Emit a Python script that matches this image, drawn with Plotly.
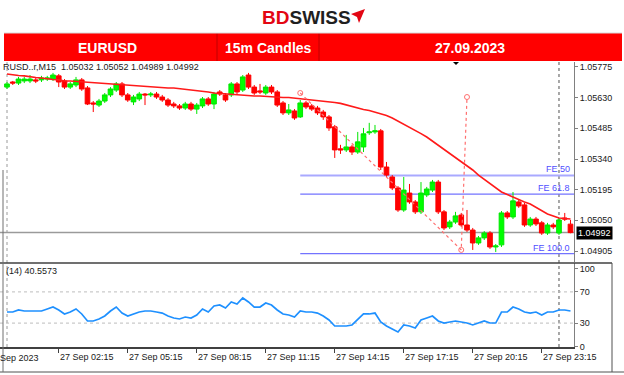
import plotly.graph_objects as go

W, H = 624, 375
def px(x):
    return x / W
def py(y):
    return 1 - y / H

FONT = "Liberation Sans, Arial, sans-serif"

# ---------------- data ----------------
bars = list(range(99))  # 15m bars, 0 = 27 Sep 00:00
opens = [1.05680, 1.05704, 1.05699, 1.05709, 1.05709, 1.05714, 1.05714, 1.05718, 1.05718, 1.05733,
         1.05709, 1.05680, 1.05690, 1.05714, 1.05676, 1.05605, 1.05595, 1.05614, 1.05643, 1.05666,
         1.05695, 1.05643, 1.05610, 1.05624, 1.05647, 1.05643, 1.05647, 1.05633, 1.05619, 1.05600,
         1.05591, 1.05581, 1.05600, 1.05576, 1.05591, 1.05624, 1.05600, 1.05657, 1.05643, 1.05643,
         1.05695, 1.05666, 1.05737, 1.05680, 1.05662, 1.05652, 1.05680, 1.05657, 1.05605, 1.05558,
         1.05567, 1.05539, 1.05605, 1.05591, 1.05581, 1.05562, 1.05539, 1.05492, 1.05388, 1.05383,
         1.05397, 1.05373, 1.05397, 1.05464, 1.05468, 1.05473, 1.05302, 1.05255, 1.05203, 1.05099,
         1.05179, 1.05137, 1.05090, 1.05170, 1.05193, 1.05231, 1.05090, 1.05019, 1.05042, 1.05075,
         1.05028, 1.05004, 1.04943, 1.04967, 1.04990, 1.04924, 1.04934, 1.05085, 1.05066, 1.05137,
         1.05123, 1.05028, 1.05056, 1.05038, 1.04990, 1.05028, 1.04990, 1.05061, 1.05032]
highs = [1.05704, 1.05709, 1.05728, 1.05728, 1.05737, 1.05723, 1.05733, 1.05733, 1.05747, 1.05742,
         1.05718, 1.05704, 1.05728, 1.05723, 1.05685, 1.05614, 1.05624, 1.05652, 1.05680, 1.05704,
         1.05704, 1.05652, 1.05643, 1.05657, 1.05652, 1.05657, 1.05657, 1.05643, 1.05628, 1.05610,
         1.05600, 1.05610, 1.05610, 1.05605, 1.05633, 1.05633, 1.05657, 1.05666, 1.05652, 1.05704,
         1.05704, 1.05737, 1.05747, 1.05690, 1.05695, 1.05690, 1.05690, 1.05666, 1.05614, 1.05600,
         1.05576, 1.05619, 1.05614, 1.05600, 1.05591, 1.05572, 1.05548, 1.05501, 1.05407, 1.05454,
         1.05407, 1.05468, 1.05487, 1.05511, 1.05501, 1.05482, 1.05326, 1.05264, 1.05212, 1.05255,
         1.05222, 1.05146, 1.05231, 1.05208, 1.05241, 1.05241, 1.05099, 1.05052, 1.05090, 1.05085,
         1.05099, 1.05014, 1.04976, 1.04999, 1.04999, 1.04938, 1.05094, 1.05094, 1.05184, 1.05146,
         1.05132, 1.05066, 1.05066, 1.05047, 1.05038, 1.05038, 1.05061, 1.05085, 1.05052]
lows = [1.05671, 1.05690, 1.05690, 1.05699, 1.05699, 1.05699, 1.05704, 1.05709, 1.05709, 1.05680,
        1.05671, 1.05671, 1.05680, 1.05662, 1.05595, 1.05562, 1.05586, 1.05605, 1.05633, 1.05657,
        1.05633, 1.05610, 1.05595, 1.05614, 1.05595, 1.05633, 1.05624, 1.05610, 1.05586, 1.05581,
        1.05572, 1.05572, 1.05567, 1.05553, 1.05581, 1.05591, 1.05576, 1.05638, 1.05610, 1.05633,
        1.05647, 1.05657, 1.05671, 1.05643, 1.05647, 1.05643, 1.05647, 1.05586, 1.05548, 1.05548,
        1.05525, 1.05534, 1.05576, 1.05567, 1.05548, 1.05525, 1.05473, 1.05345, 1.05364, 1.05373,
        1.05359, 1.05364, 1.05373, 1.05454, 1.05459, 1.05288, 1.05255, 1.05193, 1.05090, 1.05090,
        1.05128, 1.05080, 1.05080, 1.05160, 1.05184, 1.05080, 1.05004, 1.05009, 1.05033, 1.05019,
        1.04995, 1.04910, 1.04934, 1.04957, 1.04915, 1.04900, 1.04924, 1.05056, 1.05056, 1.05109,
        1.05019, 1.05019, 1.05023, 1.04981, 1.04981, 1.05009, 1.04981, 1.05047, 1.04989]
closes = [1.05695, 1.05699, 1.05718, 1.05718, 1.05718, 1.05709, 1.05723, 1.05723, 1.05737, 1.05704,
          1.05680, 1.05695, 1.05714, 1.05671, 1.05600, 1.05600, 1.05614, 1.05643, 1.05671, 1.05695,
          1.05643, 1.05619, 1.05633, 1.05647, 1.05643, 1.05647, 1.05633, 1.05619, 1.05595, 1.05591,
          1.05581, 1.05600, 1.05576, 1.05595, 1.05624, 1.05600, 1.05647, 1.05647, 1.05619, 1.05695,
          1.05657, 1.05728, 1.05680, 1.05652, 1.05657, 1.05680, 1.05657, 1.05595, 1.05558, 1.05572,
          1.05534, 1.05605, 1.05586, 1.05576, 1.05558, 1.05539, 1.05487, 1.05383, 1.05383, 1.05397,
          1.05373, 1.05421, 1.05459, 1.05468, 1.05473, 1.05302, 1.05264, 1.05203, 1.05099, 1.05193,
          1.05137, 1.05090, 1.05179, 1.05198, 1.05231, 1.05090, 1.05014, 1.05042, 1.05071, 1.05028,
          1.05004, 1.04943, 1.04967, 1.04990, 1.04924, 1.04929, 1.05085, 1.05066, 1.05142, 1.05118,
          1.05028, 1.05056, 1.05033, 1.04990, 1.05028, 1.05019, 1.05052, 1.05056, 1.04992]
ma_values = [1.05742, 1.05737, 1.05735, 1.05733, 1.05728, 1.05725, 1.05723, 1.05718, 1.05716, 1.05714,
             1.05709, 1.05709, 1.05707, 1.05704, 1.05704, 1.05702, 1.05699, 1.05699, 1.05697, 1.05695,
             1.05692, 1.05690, 1.05688, 1.05685, 1.05683, 1.05680, 1.05680, 1.05678, 1.05676, 1.05676,
             1.05673, 1.05671, 1.05669, 1.05664, 1.05662, 1.05657, 1.05652, 1.05650, 1.05647, 1.05643,
             1.05643, 1.05640, 1.05638, 1.05638, 1.05638, 1.05636, 1.05633, 1.05633, 1.05631, 1.05631,
             1.05628, 1.05628, 1.05624, 1.05621, 1.05619, 1.05614, 1.05612, 1.05607, 1.05603, 1.05595,
             1.05588, 1.05581, 1.05574, 1.05569, 1.05562, 1.05555, 1.05546, 1.05534, 1.05520, 1.05505,
             1.05491, 1.05478, 1.05460, 1.05444, 1.05425, 1.05406, 1.05387, 1.05368, 1.05345, 1.05326,
             1.05307, 1.05288, 1.05264, 1.05245, 1.05222, 1.05203, 1.05184, 1.05172, 1.05160, 1.05146,
             1.05137, 1.05127, 1.05111, 1.05094, 1.05080, 1.05071, 1.05061, 1.05059, 1.05056]
rsi_values = [44.2, 44.2, 46.8, 45.5, 45.5, 45.5, 45.5, 48.1, 50.6, 46.8,
              41.7, 44.2, 48.1, 41.7, 32.7, 32.7, 35.3, 39.1, 45.5, 50.6,
              42.9, 39.1, 41.7, 44.2, 45.5, 45.5, 44.2, 42.9, 39.1, 36.5,
              35.3, 37.8, 36.5, 40.4, 48.1, 44.2, 51.9, 53.2, 49.4, 57.1,
              54.5, 62.2, 57.1, 50.6, 50.6, 55.8, 53.2, 46.8, 41.7, 40.4,
              37.8, 45.5, 44.2, 44.2, 42.9, 39.1, 34.0, 26.3, 26.3, 26.3,
              27.6, 35.3, 41.7, 41.7, 42.9, 31.4, 26.3, 22.4, 18.6, 27.6,
              26.3, 23.7, 34.0, 36.5, 39.1, 32.7, 30.1, 31.4, 32.7, 31.4,
              30.1, 27.6, 30.1, 32.7, 30.1, 30.1, 44.2, 44.2, 50.6, 48.1,
              44.2, 42.9, 44.2, 40.4, 44.2, 44.2, 46.8, 46.8, 45.5]

price_ticks = [1.04905, 1.05050, 1.05195, 1.05340, 1.05485, 1.05630, 1.05775]
price_tick_labels = ["1.04905", "1.05050", "1.05195", "1.05340", "1.05485", "1.05630", "1.05775"]
rsi_ticks = [0, 30, 70, 100]
rsi_levels = [30, 70]
time_tick_bars = [9, 21, 33, 45, 57, 69, 81, 93]
time_tick_labels = ["27 Sep 02:15", "27 Sep 05:15", "27 Sep 08:15", "27 Sep 11:15",
                    "27 Sep 14:15", "27 Sep 17:15", "27 Sep 20:15", "27 Sep 23:15"]
day_separators = [0, 96]

fe_points_bar = [51, 79, 80]
fe_points_price = [1.05652, 1.04910, 1.05633]
fe_levels = [1.05262, 1.05174, 1.04893]
fe_labels = ["FE 50", "FE 61.8", "FE 100.0"]

bid = 1.04992
ohlc_text = "RUSD..r,M15  1.05032 1.05052 1.04989 1.04992"
rsi_text = "(14) 40.5573"

x_range = [-1.217, 98.61]
price_range = [1.04853, 1.057986]
rsi_range = [-0.64, 107.05]

# ---------------- figure ----------------
fig = go.Figure()

fig.add_trace(go.Candlestick(
    x=bars, open=opens, high=highs, low=lows, close=closes,
    increasing=dict(line=dict(color="#00e600", width=1), fillcolor="#00ff00"),
    decreasing=dict(line=dict(color="#ff0000", width=1), fillcolor="#ff0000"),
    whiskerwidth=0, xaxis="x", yaxis="y", showlegend=False, hoverinfo="skip"))

fig.add_trace(go.Scatter(x=bars, y=ma_values, mode="lines",
                         line=dict(color="#ff1a1a", width=1.6),
                         xaxis="x", yaxis="y", showlegend=False, hoverinfo="skip"))

fig.add_trace(go.Scatter(x=fe_points_bar, y=fe_points_price, mode="lines+markers",
                         line=dict(color="#ff6f6f", width=1.2, dash="dot"),
                         marker=dict(symbol="circle-open", size=5, color="#ff6f6f",
                                     line=dict(width=1)),
                         xaxis="x", yaxis="y", showlegend=False, hoverinfo="skip"))

fig.add_trace(go.Scatter(x=bars, y=rsi_values, mode="lines",
                         line=dict(color="#1e90ff", width=1.7),
                         xaxis="x2", yaxis="y2", showlegend=False, hoverinfo="skip"))

shapes = []
# header banner
shapes.append(dict(type="rect", xref="paper", yref="paper",
                   x0=px(4), x1=px(622), y0=py(61), y1=py(33),
                   fillcolor="#ff0000", line=dict(width=0), layer="above"))
for xd in [217, 319]:
    shapes.append(dict(type="line", xref="paper", yref="paper",
                       x0=px(xd), x1=px(xd), y0=py(61), y1=py(33),
                       line=dict(color="#c00000", width=1)))
shapes.append(dict(type="line", xref="paper", yref="paper",
                   x0=px(4), x1=px(622), y0=py(33), y1=py(33),
                   line=dict(color="#d8d8d8", width=1)))
# logo icon
shapes.append(dict(type="path", xref="paper", yref="paper",
                   path=f"M {px(351)},{py(14)} L {px(365)},{py(9)} L {px(359)},{py(23)} L {px(357)},{py(17)} Z",
                   fillcolor="#e30613", line=dict(width=0)))
# chart shift marker
shapes.append(dict(type="path", xref="paper", yref="paper",
                   path=f"M {px(453)},{py(62)} L {px(459)},{py(62)} L {px(456)},{py(65)} Z",
                   fillcolor="#000000", line=dict(width=0)))
# bid line
shapes.append(dict(type="line", xref="x domain", yref="y", x0=0, x1=1, y0=bid, y1=bid,
                   line=dict(color="#9a9a9a", width=1.5), layer="below"))
# fibo expansion levels
for lvl, wd, col in zip(fe_levels, [2, 1.2, 1.2], ["#a9a9ff", "#7373ff", "#7373ff"]):
    shapes.append(dict(type="line", xref="x", yref="y", x0=fe_points_bar[0], x1=x_range[1],
                       y0=lvl, y1=lvl, line=dict(color=col, width=wd), layer="below"))
# day separators
for ds, col in zip(day_separators, ["#9a9a9a", "#505050"]):
    shapes.append(dict(type="line", xref="x", yref="paper", x0=ds, x1=ds,
                       y0=py(347), y1=py(62), line=dict(color=col, width=1, dash="dot"),
                       layer="below"))
# rsi levels
for lv in rsi_levels:
    shapes.append(dict(type="line", xref="x2 domain", yref="y2", x0=0, x1=1, y0=lv, y1=lv,
                       line=dict(color="#bdbdbd", width=1, dash="dot"), layer="below"))
# panel frames
shapes.append(dict(type="line", xref="paper", yref="paper", x0=0, x1=px(612),
                   y0=py(263), y1=py(263), line=dict(color="#404040", width=1.5)))
shapes.append(dict(type="line", xref="paper", yref="paper", x0=0, x1=1,
                   y0=py(372), y1=py(372), line=dict(color="#505050", width=1)))
shapes.append(dict(type="line", xref="paper", yref="paper", x0=px(612), x1=px(612),
                   y0=py(372), y1=py(263), line=dict(color="#505050", width=1)))
shapes.append(dict(type="line", xref="paper", yref="paper", x0=px(3), x1=px(3),
                   y0=py(372), y1=py(170), line=dict(color="#707070", width=1)))

annotations = []
annotations.append(dict(xref="paper", yref="paper", x=px(306), y=py(17),
                        text="<b><span style='color:#e30613'>BD</span><span style='color:#1f1f1f'>SWISS</span></b>",
                        showarrow=False, font=dict(family=FONT, size=19),
                        xanchor="center", yanchor="middle"))
for txt, cx in [("EURUSD", 107), ("15m Candles", 268), ("27.09.2023", 470)]:
    annotations.append(dict(xref="paper", yref="paper", x=px(cx), y=py(48), text=f"<b>{txt}</b>",
                            showarrow=False, font=dict(family=FONT, size=14, color="#ffffff"),
                            xanchor="center", yanchor="middle"))
annotations.append(dict(xref="paper", yref="paper", x=px(1), y=py(67), text=ohlc_text,
                        showarrow=False, font=dict(family=FONT, size=9, color="#202020"),
                        xanchor="left", yanchor="middle"))
annotations.append(dict(xref="paper", yref="paper", x=px(4), y=py(271), text=rsi_text,
                        showarrow=False, font=dict(family=FONT, size=9, color="#202020"),
                        xanchor="left", yanchor="middle"))
annotations.append(dict(xref="paper", yref="paper", x=px(-2), y=py(358), text="Sep 2023",
                        showarrow=False, font=dict(family=FONT, size=9, color="#202020"),
                        xanchor="left", yanchor="middle"))
for lvl, lab in zip(fe_levels, fe_labels):
    annotations.append(dict(xref="paper", yref="y", x=px(572), y=lvl, text=lab,
                            showarrow=False, font=dict(family=FONT, size=9, color="#4f4fff"),
                            xanchor="right", yanchor="bottom", yshift=-1))
annotations.append(dict(xref="paper", yref="y", x=px(576), y=bid, text="1.04992",
                        showarrow=False, font=dict(family=FONT, size=9, color="#ffffff"),
                        bgcolor="#000000", borderpad=1, xanchor="left", yanchor="middle"))

fig.update_layout(
    width=W, height=H, margin=dict(l=0, r=0, t=0, b=0, autoexpand=False),
    paper_bgcolor="#ffffff", plot_bgcolor="#ffffff",
    font=dict(family=FONT, size=9, color="#202020"),
    showlegend=False, shapes=shapes, annotations=annotations,
    boxgap=0.1, boxgroupgap=0.1,
    xaxis=dict(domain=[0, px(574)], range=x_range, anchor="y", showgrid=False, automargin=False,
               zeroline=False, showticklabels=False, ticks="", rangeslider=dict(visible=False),
               fixedrange=True),
    yaxis=dict(domain=[py(262), py(62)], range=price_range, anchor="x", side="right",
               automargin=False,
               showgrid=False, zeroline=False, showline=True, linecolor="#808080", linewidth=1,
               tickvals=price_ticks, ticktext=price_tick_labels, ticks="outside", ticklen=3,
               tickcolor="#808080", tickfont=dict(family=FONT, size=9, color="#202020")),
    xaxis2=dict(domain=[0, px(574)], range=x_range, anchor="y2", showgrid=False,
                automargin=False,
                zeroline=False, showline=True, linecolor="#404040", linewidth=1.5,
                tickvals=time_tick_bars, ticktext=time_tick_labels, ticks="outside",
                ticklen=4, tickcolor="#404040", ticklabelposition="outside right",
                tickfont=dict(family=FONT, size=9, color="#202020")),
    yaxis2=dict(domain=[py(347), py(263)], range=rsi_range, anchor="x2", side="right",
                automargin=False,
                showgrid=False, zeroline=False, showline=True, linecolor="#808080", linewidth=1,
                tickvals=rsi_ticks, ticks="outside", ticklen=3, tickcolor="#808080",
                tickfont=dict(family=FONT, size=9, color="#202020")),
)

fig.write_html("out.html")
